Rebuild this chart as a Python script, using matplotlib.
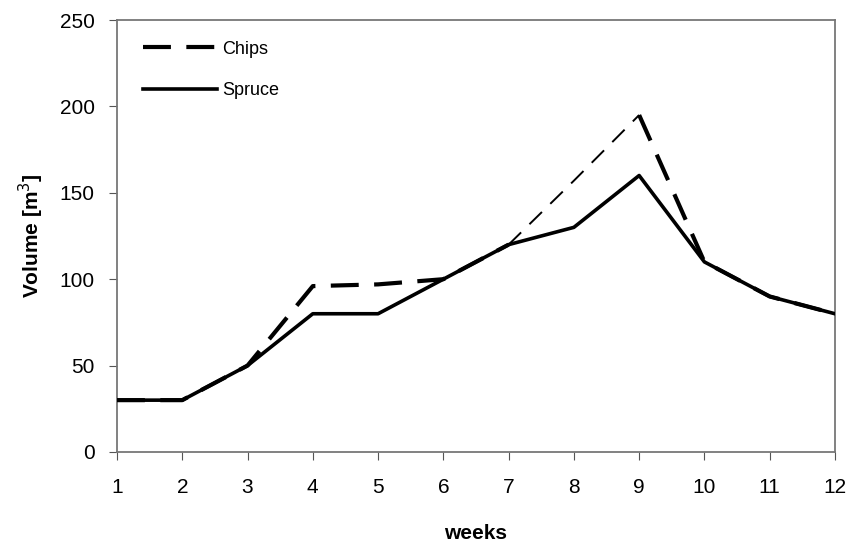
import matplotlib.pyplot as plt
import numpy as np

plt.rcParams['font.family'] = ['Liberation Sans', 'DejaVu Sans']

## data
weeks = np.arange(1, 13)
chips = [30, 30, 50, 96, 97, 100, 120, 157, 195, 110, 90, 80]
spruce = [30, 30, 50, 80, 80, 100, 120, 130, 160, 110, 90, 80]

fig = plt.figure(figsize=(8.52, 5.51), dpi=100)
ax = fig.add_axes([0.1373, 0.1797, 0.8427, 0.784])

# spruce solid line
ax.plot(weeks, spruce, color='black', lw=2.6, zorder=3)

# chips dashed, segment 7-9 drawn thinner like the original
ax.plot(weeks[:7], chips[:7], color='black', lw=3, dashes=(6.7, 3.7), zorder=4)
ax.plot(weeks[6:9], chips[6:9], color='black', lw=1.4, dashes=(9, 6), zorder=4)
ax.plot(weeks[8:], chips[8:], color='black', lw=3, dashes=(6.7, 3.7), zorder=4)

# legend proxies
h1, = ax.plot([], [], color='black', lw=3, dashes=(6.7, 3.7), label='Chips')
h2, = ax.plot([], [], color='black', lw=2.6, label='Spruce')
ax.legend(handles=[h1, h2], loc='upper left', frameon=False, fontsize=13,
          handlelength=4.1, handletextpad=0.3, borderpad=0, borderaxespad=0,
          bbox_to_anchor=(0.036, 0.952), labelspacing=1.35)

## Config the graph
ax.set_xlim(1, 12)
ax.set_ylim(0, 250)
ax.set_xticks(weeks)
ax.set_yticks([0, 50, 100, 150, 200, 250])
ax.tick_params(direction='out', length=6, labelsize=15, color='#555555')
ax.tick_params(axis='x', pad=13)
ax.tick_params(axis='y', pad=10)
for s in ax.spines.values():
    s.set_color('#777777')
    s.set_linewidth(1.3)

ax.set_xlabel('weeks', fontsize=15, fontweight='bold', labelpad=19)
ax.set_ylabel('Volume [m$^3$]', fontsize=15, fontweight='bold', labelpad=10)

plt.savefig('out.png')
